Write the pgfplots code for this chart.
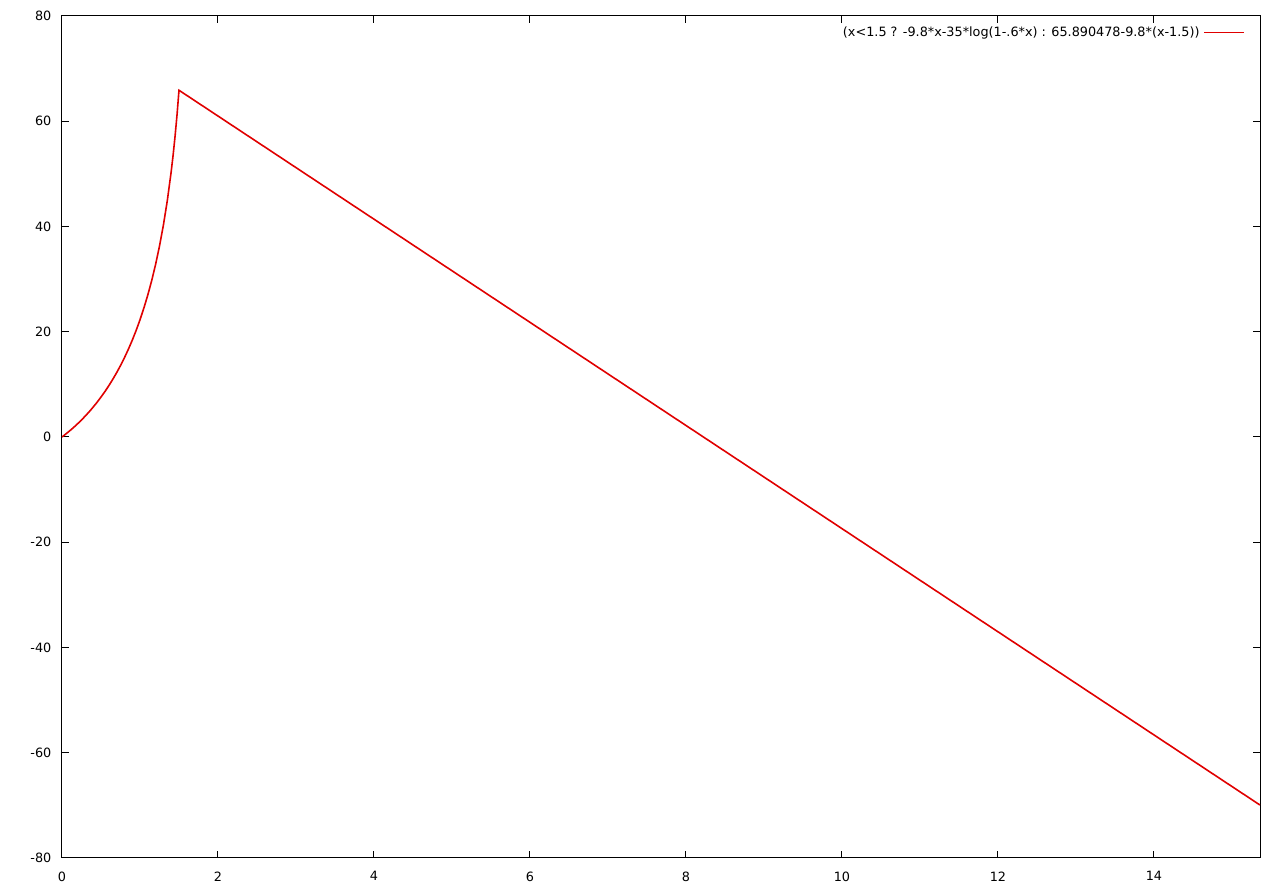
\documentclass[border=0pt]{standalone}
\usepackage{fontspec}
\setmainfont{DejaVu Sans}
\usepackage{pgfplots}
\pgfplotsset{compat=1.18}
\begin{document}
\fontsize{6.4}{7.7}\selectfont
\begin{tikzpicture}
\useasboundingbox (-31pt,-17.5pt) rectangle (609pt,429pt);
\begin{axis}[
  at={(0pt,0pt)}, anchor=south west,
  scale only axis, width=599pt, height=421pt,
  xmin=0, xmax=15.36, ymin=-80, ymax=80,
  xtick={0,2,...,14}, ytick={-80,-60,...,80},
  tick align=inside, major tick length=3.5pt,
  xtick pos=both, ytick pos=both,
  axis line style={line width=0.5pt},
  every tick/.style={black, line width=0.5pt},
  /pgf/number format/assume math mode=true,
  ticklabel style={font=\fontsize{6.4}{7.7}\selectfont},
  xticklabel style={yshift=-4.5pt},
  yticklabel style={xshift=-3pt},
  legend style={draw=none, fill=none, at={(rel axis cs:1,1)}, anchor=north east,
    xshift=-6.5pt, yshift=-2pt, font=\fontsize{6.4}{7.7}\selectfont, inner sep=1pt},
  legend plot pos=right, legend cell align=right,
  legend image post style={line width=0.6pt},
  legend image code/.code={\draw[#1] (0cm,0cm) -- (0.7cm,0cm);},
]
\addplot[color={rgb,255:red,224;green,0;blue,0}, line width=0.8pt] coordinates {
(0,0) (0.05,0.578) (0.1,1.186) (0.15,1.828) (0.2,2.514) (0.25,3.234) (0.3,4.006) (0.35,4.818)
(0.4,5.685) (0.45,6.605) (0.5,7.584) (0.55,8.626) (0.6,9.740) (0.65,10.932) (0.7,12.205)
(0.75,13.575) (0.8,15.047) (0.85,16.640) (0.9,18.359) (0.95,20.226) (1.0,22.270)
(1.05,24.509) (1.1,26.978) (1.15,29.716) (1.2,32.794) (1.25,36.270) (1.3,40.254)
(1.35,44.896) (1.4,50.420) (1.425,53.604) (1.45,57.198) (1.475,61.244) (1.49,64.038)
(1.5,65.890) (15.36,-69.938)
};
\addlegendentry{(x<1.5 ? -9.8*x-35*log(1-.6*x) : 65.890478-9.8*(x-1.5))}
\end{axis}
\end{tikzpicture}
\end{document}
